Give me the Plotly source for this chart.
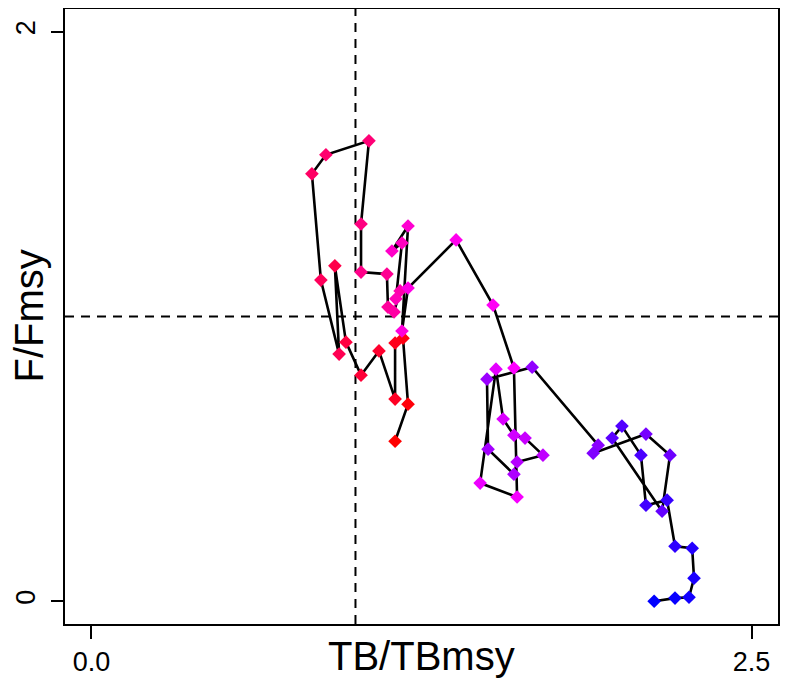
import plotly.graph_objects as go

# Trajectory (in time order, red -> magenta -> blue)
tb_ratio = [1.150, 1.199, 1.180, 1.150, 1.150, 1.089, 1.021, 0.964, 0.922, 0.938,
            0.869, 0.835, 0.888, 1.051, 1.021, 1.021, 1.119, 1.123, 1.146, 1.169,
            1.153, 1.176, 1.138, 1.199, 1.176, 1.199, 1.381, 1.521, 1.600, 1.612,
            1.472, 1.532, 1.559, 1.600, 1.642, 1.710, 1.612, 1.600, 1.502, 1.498,
            1.669, 1.919, 1.900, 2.100, 2.191, 2.161, 1.972, 2.009, 2.081, 2.100,
            2.180, 2.210, 2.275, 2.282, 2.263, 2.210, 2.131]
f_ratio = [0.562, 0.692, 0.924, 0.907, 0.710, 0.879, 0.794, 0.910, 1.178, 0.868,
           1.128, 1.501, 1.568, 1.617, 1.325, 1.156, 1.149, 1.033, 1.016, 1.090,
           1.062, 1.258, 1.230, 1.318, 0.949, 1.100, 1.269, 1.040, 0.819, 0.366,
           0.415, 0.815, 0.640, 0.583, 0.573, 0.513, 0.489, 0.446, 0.534, 0.780,
           0.822, 0.548, 0.520, 0.587, 0.513, 0.316, 0.573, 0.615, 0.513, 0.337,
           0.355, 0.193, 0.186, 0.081, 0.014, 0.011, 0.000]

# Colour ramp red -> magenta -> blue along the trajectory
ramp_stops = [(255, 0, 0), (255, 0, 255), (0, 0, 255)]
n = len(tb_ratio)
colors = []
for i in range(n):
    t = i / (n - 1) * (len(ramp_stops) - 1)
    k = min(int(t), len(ramp_stops) - 2)
    f = t - k
    c = [round(ramp_stops[k][j] * (1 - f) + ramp_stops[k + 1][j] * f) for j in range(3)]
    colors.append("rgb(%d,%d,%d)" % tuple(c))

ref_x = 1.0
ref_y = 1.0
x_ticks = [0.0, 2.5]
x_tick_labels = ["0.0", "2.5"]
y_ticks = [0, 2]
y_tick_labels = ["0", "2"]

FONT = "Liberation Sans, Arial, sans-serif"

fig = go.Figure()
fig.add_trace(go.Scatter(
    x=tb_ratio, y=f_ratio, mode="lines+markers",
    line=dict(color="black", width=2.6),
    marker=dict(symbol="diamond", size=10.5, color=colors, line=dict(width=0)),
    showlegend=False, hoverinfo="skip"))

fig.add_shape(type="line", xref="x", yref="paper", x0=ref_x, x1=ref_x, y0=0, y1=1,
              line=dict(color="black", width=2, dash="9px,7px"), layer="below")
fig.add_shape(type="line", xref="paper", yref="y", x0=0, x1=1, y0=ref_y, y1=ref_y,
              line=dict(color="black", width=2, dash="9px,7px"), layer="below")

# the page body adds an 8px offset, so the figure is sized to fit inside the window
fig.update_layout(
    width=787, height=673,
    margin=dict(l=57, r=17, t=1, b=57, autoexpand=False),
    paper_bgcolor="white", plot_bgcolor="white",
    font=dict(family=FONT, color="black"),
    xaxis=dict(range=[-0.1, 2.6], showgrid=False, zeroline=False, automargin=False,
               showline=True, mirror=True, linecolor="black", linewidth=2,
               ticks="outside", ticklen=13, tickwidth=2, tickcolor="black",
               tickvals=x_ticks, ticktext=x_tick_labels,
               tickfont=dict(size=27, family=FONT), ticklabelstandoff=0),
    yaxis=dict(range=[-0.08, 2.08], showgrid=False, zeroline=False, automargin=False,
               showline=True, mirror=True, linecolor="black", linewidth=2,
               ticks="outside", ticklen=12, tickwidth=2, tickcolor="black",
               tickvals=y_ticks, ticktext=y_tick_labels, tickangle=-90,
               tickfont=dict(size=27, family=FONT), ticklabelstandoff=5),
    annotations=[
        dict(text="TB/TBmsy", xref="paper", yref="paper", x=0.5, y=0,
             yshift=-32, xanchor="center", yanchor="middle", showarrow=False,
             font=dict(size=40, family=FONT, color="black")),
        dict(text="F/Fmsy", xref="paper", yref="paper", x=0, y=0.5,
             xshift=-37, xanchor="center", yanchor="middle", showarrow=False,
             textangle=-90, font=dict(size=40, family=FONT, color="black")),
    ],
)

fig.write_html("out.html")
